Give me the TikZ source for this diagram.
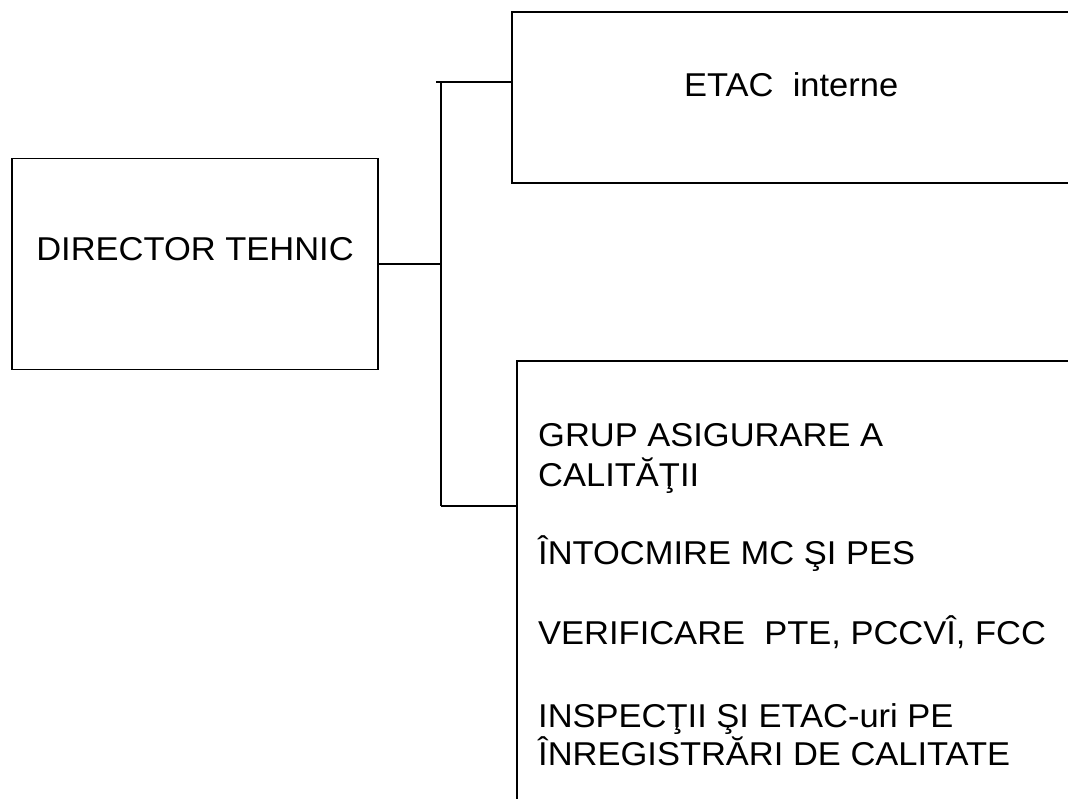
\documentclass[tikz,border=0pt]{standalone}
\usepackage{fontspec}
\setmainfont{Liberation Sans}[FakeStretch=1.045]
\begin{document}
\begin{tikzpicture}[x=1pt,y=-1pt,
  box/.style={draw=black,line width=1.4pt,inner sep=0pt},
  txt/.style={inner sep=0pt,anchor=base west,font=\fontsize{33}{39}\selectfont},
  conn/.style={draw=black,line width=1.4pt}]
\useasboundingbox (0,0) rectangle (1068,798);
\clip (0,0) rectangle (1068,798);
\fill[white] (0,0) rectangle (1068,798);
% boxes
\node[box,minimum width=366pt,minimum height=211pt] (dir) at (195,264) {};
\node[box,minimum width=568pt,minimum height=171pt] (etac) at (796,97.5) {};
\node[box,minimum width=563pt,minimum height=449pt] (grup) at (798.5,585.5) {};
% texts
\node[txt,anchor=base] (dirtext) at (195,260) {DIRECTOR TEHNIC};
\node[txt] (etactext) at (684,96) {ETAC\ \ interne};
\node[txt] (g1) at (538,446) {GRUP ASIGURARE A};
\node[txt] (g2) at (538,486) {CALITĂŢII};
\node[txt] (g3) at (538,564) {ÎNTOCMIRE MC ŞI PES};
\node[txt] (g4) at (538,644) {VERIFICARE\ \ PTE, PCCVÎ, FCC};
\node[txt] (g5) at (538,727) {INSPECŢII ŞI ETAC-uri PE};
\node[txt] (g6) at (538,765) {ÎNREGISTRĂRI DE CALITATE};
% connectors
\coordinate (busT) at (441,82);
\coordinate (busB) at (441,506);
\coordinate (stubT) at (436,82);
\draw[conn] (dir.east) -- (dir.east -| busT);
\draw[conn] (busT) -- (busB);
\draw[conn] (stubT) -- (etac.west |- stubT);
\draw[conn] (busB) -- (grup.west |- busB);
\end{tikzpicture}
\end{document}
